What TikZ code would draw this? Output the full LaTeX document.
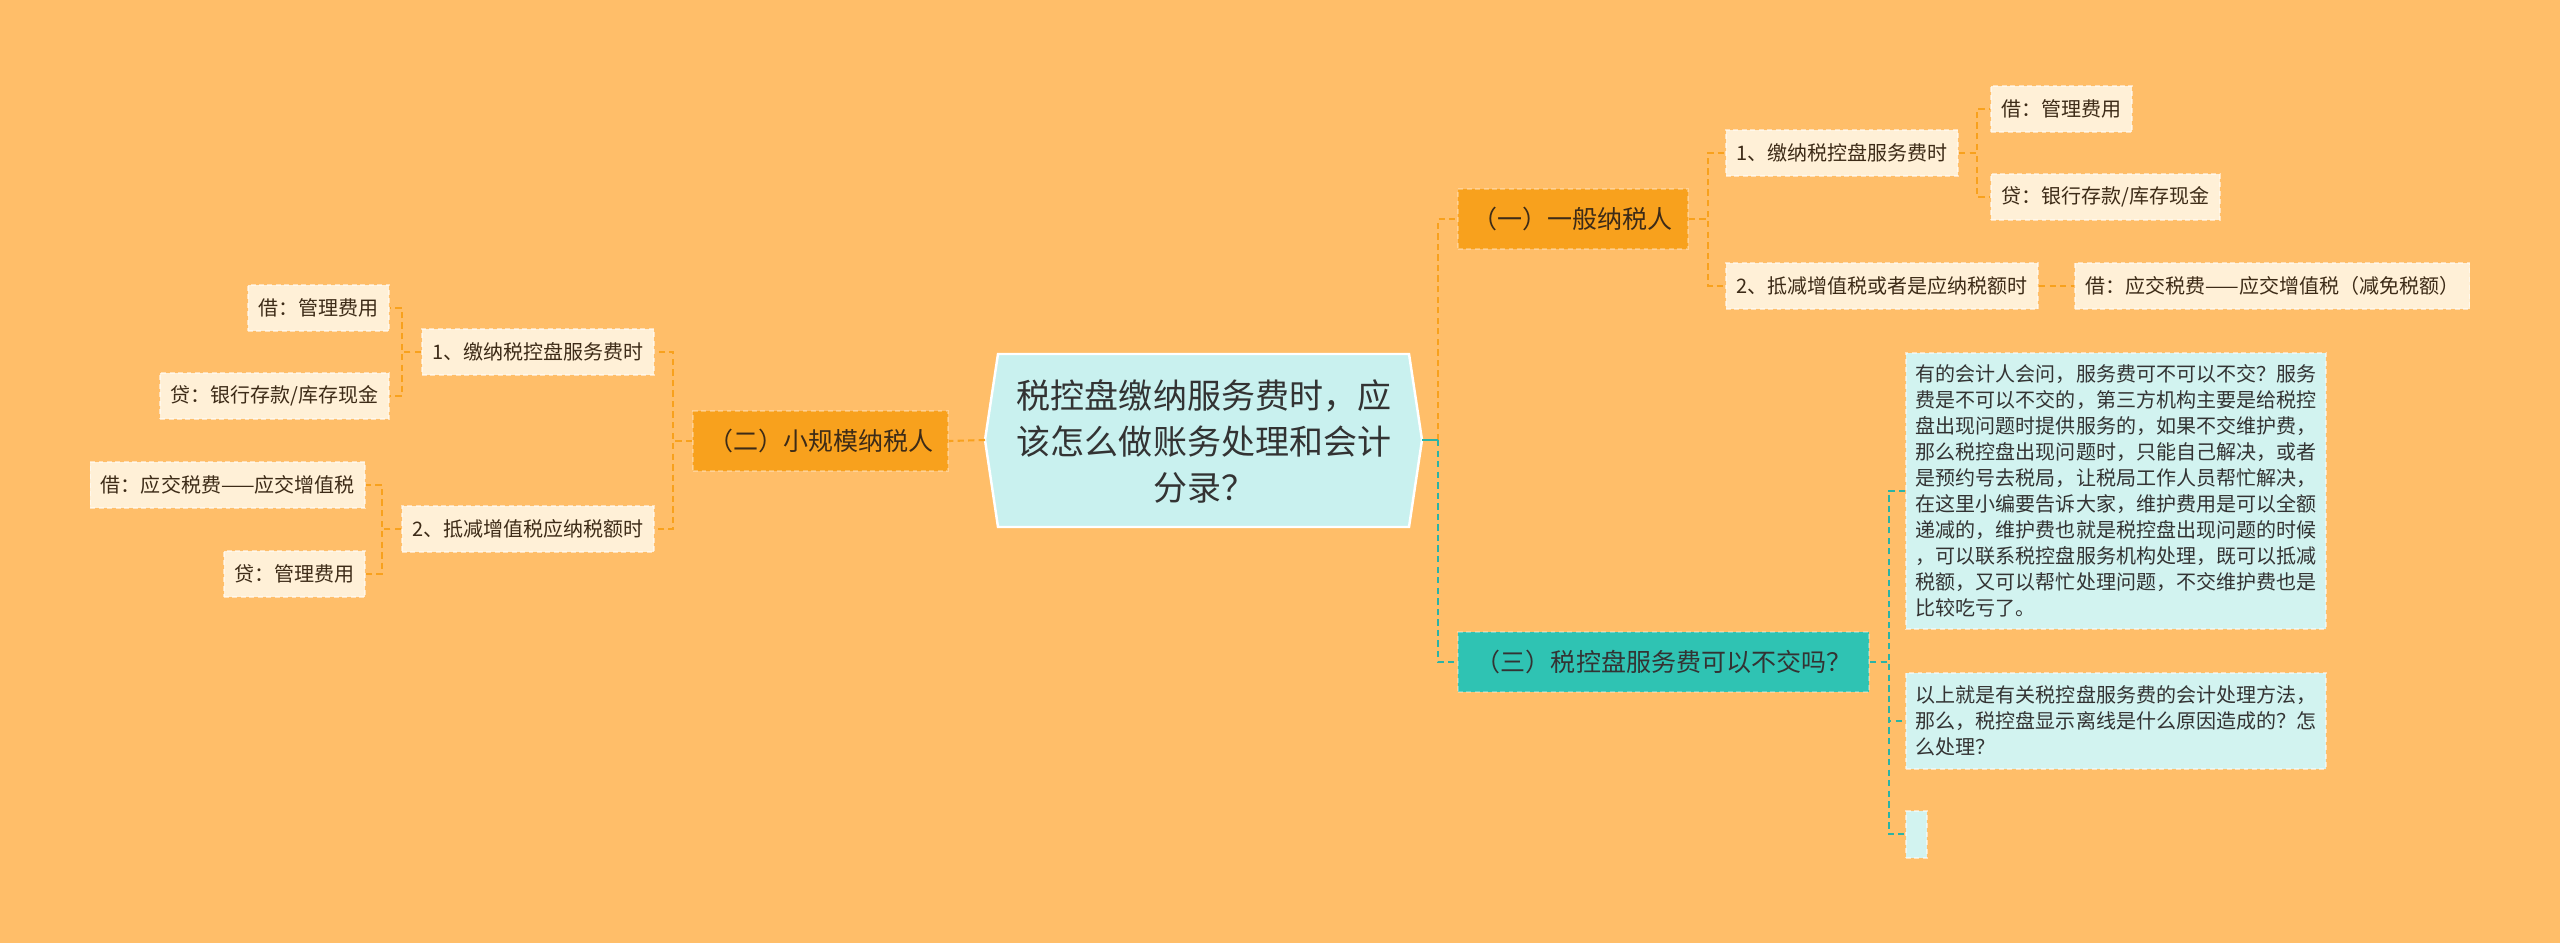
\documentclass[tikz,border=0pt]{standalone}
\usepackage{fontspec}
\setmainfont{Noto Sans CJK SC}
\usepackage{tikz}
\usetikzlibrary{positioning}

\definecolor{bgc}{HTML}{FFBE69}
\definecolor{orangec}{HTML}{F8A11D}
\definecolor{leafc}{HTML}{FFF0D7}
\definecolor{tealc}{HTML}{2FC3B3}
\definecolor{cyanc}{HTML}{D2F3F0}
\definecolor{rootc}{HTML}{C9F1EF}
\definecolor{txtc}{HTML}{333333}
\definecolor{browntxt}{HTML}{3D2B17}

\tikzset{
    leaf/.style={fill=leafc, text=browntxt, draw=white, draw opacity=.55,
        dash pattern=on 1.4pt off 1pt, line width=.5pt,
        inner xsep=.105cm, inner ysep=0pt, minimum height=.46cm,
        font=\fontsize{5.69}{7}\selectfont},
    topic/.style={fill=orangec, text=browntxt, draw=white, draw opacity=.3,
        dash pattern=on 1.4pt off 1pt, line width=.5pt,
        inner xsep=.15cm, inner ysep=0pt, minimum height=.6cm,
        font=\fontsize{7.11}{8.5}\selectfont},
    note/.style={fill=cyanc, text=txtc, draw=white, draw opacity=.55,
        dash pattern=on 1.4pt off 1pt, line width=.5pt,
        align=left, inner xsep=.1cm, inner ysep=0pt,
        font=\fontsize{5.69}{7.37}\selectfont},
    oline/.style={draw=orangec, line width=.6pt, dash pattern=on 1.8pt off 1.2pt},
    tline/.style={draw=tealc!92!black, line width=.6pt, dash pattern=on 1.8pt off 1.2pt},
}

\begin{document}
\begin{tikzpicture}[x=0.01cm, y=-0.01cm]
    % background
    \fill[bgc] (0,0) rectangle (2560,943);

    % centre
    \path[fill=rootc, draw=white, line width=.7pt]
        (985,440) -- (998,354) -- (1409,354) -- (1422,440) -- (1409,527) -- (998,527) -- cycle;
    \coordinate (rootW) at (985,440);
    \coordinate (rootE) at (1422,440);
    \node[font=\fontsize{9.67}{13.09}\selectfont, text=txtc, align=center] (root) at (1204,441)
        {税控盘缴纳服务费时，应\\该怎么做账务处理和会计\\分录？};

    % left branch
    \node[topic, anchor=east] (small) at (949,441) {（二）小规模纳税人};
    \node[leaf, anchor=east] (s1) at (655,352) {1、缴纳税控盘服务费时};
    \node[leaf, anchor=east] (s2) at (655,529) {2、抵减增值税应纳税额时};
    \node[leaf, anchor=east] (s1a) at (390,308) {借：管理费用};
    \node[leaf, anchor=east] (s1b) at (390,396) {贷：银行存款/库存现金};
    \node[leaf, anchor=east] (s2a) at (366,485) {借：应交税费——应交增值税};
    \node[leaf, anchor=east] (s2b) at (366,574) {贷：管理费用};

    % right branch, general taxpayer
    \node[topic, anchor=west] (general) at (1457,219) {（一）一般纳税人};
    \node[leaf, anchor=west] (g1) at (1725,153) {1、缴纳税控盘服务费时};
    \node[leaf, anchor=west] (g2) at (1725,286) {2、抵减增值税或者是应纳税额时};
    \node[leaf, anchor=west] (g1a) at (1990,109) {借：管理费用};
    \node[leaf, anchor=west] (g1b) at (1990,197) {贷：银行存款/库存现金};
    \node[leaf, anchor=west] (g2a) at (2074,286) {借：应交税费——应交增值税（减免税额）};

    % right branch, service fee
    \node[topic, fill=tealc, text=txtc, anchor=west, minimum width=4.11cm] (fee) at (1457,662)
        {（三）税控盘服务费可以不交吗？};
    \node[note, anchor=north west, minimum width=4.2cm, minimum height=2.76cm] (n1) at (1905,352)
        {有的会计人会问，服务费可不可以不交？服务\\
         费是不可以不交的，第三方机构主要是给税控\\
         盘出现问题时提供服务的，如果不交维护费，\\
         那么税控盘出现问题时，只能自己解决，或者\\
         是预约号去税局，让税局工作人员帮忙解决，\\
         在这里小编要告诉大家，维护费用是可以全额\\
         递减的，维护费也就是税控盘出现问题的时候\\
         ，可以联系税控盘服务机构处理，既可以抵减\\
         税额，又可以帮忙处理问题，不交维护费也是\\
         比较吃亏了。};
    \node[note, anchor=north west, minimum width=4.2cm, minimum height=.96cm] (n2) at (1905,672)
        {以上就是有关税控盘服务费的会计处理方法，\\
         那么，税控盘显示离线是什么原因造成的？怎\\
         么处理？};
    \node[note, anchor=north west, inner sep=0pt, minimum width=.21cm, minimum height=.47cm] (n3) at (1905,810) {};

    % connectors, left
    \draw[oline] (rootW) -- (small.east);
    \draw[oline] (small.west) -- ++(-19,0) |- (s1.east);
    \draw[oline] (small.west) -- ++(-19,0) |- (s2.east);
    \draw[oline] (s1.west) -- ++(-19,0) |- (s1a.east);
    \draw[oline] (s1.west) -- ++(-19,0) |- (s1b.east);
    \draw[oline] (s2.west) -- ++(-19,0) |- (s2a.east);
    \draw[oline] (s2.west) -- ++(-19,0) |- (s2b.east);

    % connectors, right
    \draw[oline] (rootE) ++(16,0) |- (general.west);
    \draw[tline] (rootE) ++(16,0) |- (fee.west);
    \draw[tline, solid] (rootE) -- ++(16,0);
    \draw[oline] (general.east) -- ++(19,0) |- (g1.west);
    \draw[oline] (general.east) -- ++(19,0) |- (g2.west);
    \draw[oline] (g1.east) -- ++(18,0) |- (g1a.west);
    \draw[oline] (g1.east) -- ++(18,0) |- (g1b.west);
    \draw[oline] (g2.east) -- (g2a.west);
    \draw[tline] (fee.east) -- ++(19,0) |- (n1.west);
    \draw[tline] (fee.east) -- ++(19,0) |- (n2.west);
    \draw[tline] (fee.east) -- ++(19,0) |- (n3.west);
\end{tikzpicture}
\end{document}
